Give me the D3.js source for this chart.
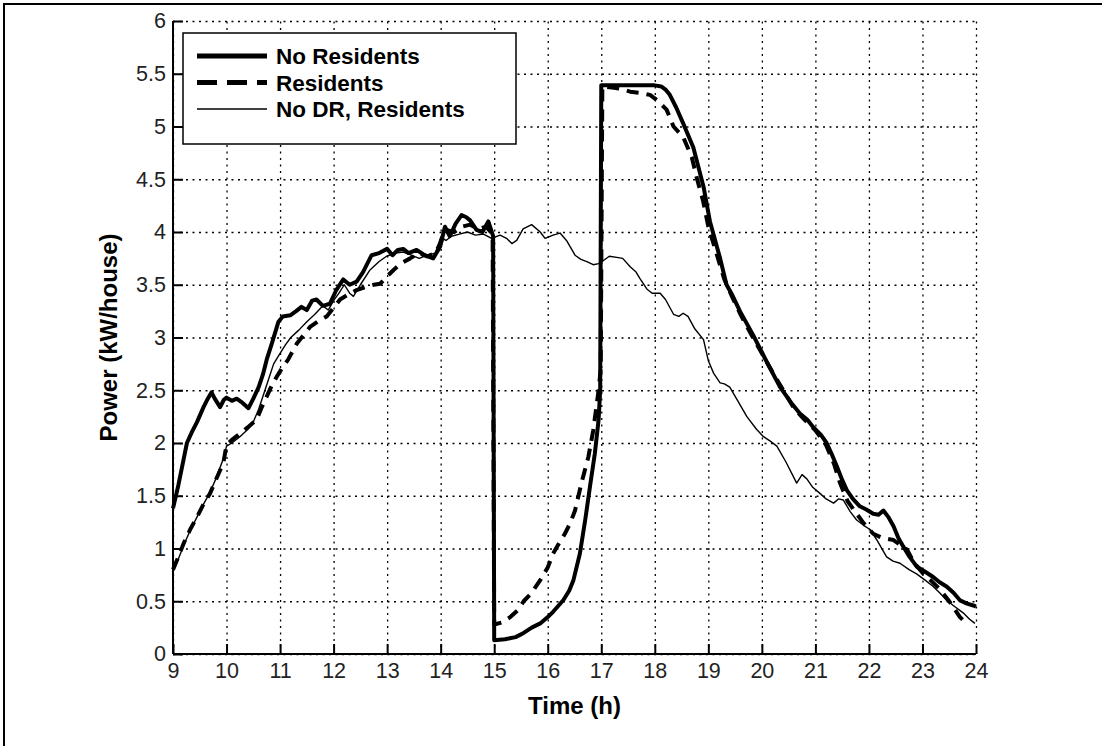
<!DOCTYPE html>
<html lang='en'>
	<head>
		<meta charset='UTF-8'>
		<title>Power per house</title>
		<style>
			body { margin: 0; background: #fff; }
			text { font-family: 'Liberation Sans', Arial, sans-serif; }
		</style>
	</head>
	<body>
		<svg id='graph' width='1102' height='746'></svg>

		<script src='https://d3js.org/d3.v7.min.js'></script>
		<script>
			// series: hour of day and kW/house
			const noResT = [9.0, 9.1, 9.2, 9.26, 9.35, 9.45, 9.57, 9.65, 9.72, 9.78, 9.83, 9.88, 9.95, 10.0, 10.1, 10.19, 10.3, 10.41, 10.5, 10.6, 10.68, 10.75, 10.85, 10.97, 11.05, 11.19, 11.3, 11.4, 11.5, 11.6, 11.68, 11.8, 11.93, 12.05, 12.18, 12.3, 12.43, 12.55, 12.71, 12.85, 13.0, 13.1, 13.2, 13.3, 13.4, 13.55, 13.7, 13.86, 13.99, 14.08, 14.17, 14.28, 14.39, 14.48, 14.55, 14.67, 14.78, 14.89, 14.98, 15.0, 15.2, 15.4, 15.55, 15.7, 15.86, 16.0, 16.1, 16.29, 16.4, 16.48, 16.6, 16.7, 16.79, 16.88, 16.95, 16.98, 17.0, 17.5, 18.0, 18.12, 18.2, 18.28, 18.4, 18.53, 18.72, 18.91, 19.03, 19.22, 19.34, 19.45, 19.59, 19.84, 20.09, 20.34, 20.55, 20.71, 20.85, 20.96, 21.1, 21.21, 21.3, 21.4, 21.5, 21.59, 21.7, 21.83, 21.95, 22.08, 22.18, 22.27, 22.36, 22.46, 22.55, 22.64, 22.76, 22.89, 23.05, 23.2, 23.32, 23.45, 23.58, 23.7, 23.82, 23.95, 24.0];
			const noResV = [1.38, 1.6, 1.85, 2.0, 2.1, 2.2, 2.34, 2.42, 2.48, 2.42, 2.38, 2.34, 2.41, 2.43, 2.4, 2.42, 2.38, 2.33, 2.42, 2.53, 2.65, 2.79, 2.95, 3.15, 3.2, 3.21, 3.25, 3.29, 3.26, 3.35, 3.36, 3.3, 3.32, 3.45, 3.55, 3.5, 3.53, 3.62, 3.78, 3.8, 3.84, 3.78, 3.83, 3.84, 3.8, 3.83, 3.78, 3.75, 3.86, 4.05, 3.96, 4.08, 4.16, 4.14, 4.11, 4.02, 4.0, 4.1, 3.96, 0.13, 0.14, 0.16, 0.2, 0.25, 0.29, 0.35, 0.4, 0.51, 0.6, 0.7, 0.95, 1.27, 1.59, 1.9, 2.22, 2.5, 5.39, 5.39, 5.39, 5.38, 5.35, 5.3, 5.18, 5.03, 4.8, 4.43, 4.1, 3.75, 3.5, 3.4, 3.25, 3.02, 2.77, 2.53, 2.38, 2.28, 2.22, 2.15, 2.08, 2.0, 1.9, 1.78, 1.65, 1.55, 1.47, 1.4, 1.37, 1.33, 1.32, 1.36, 1.3, 1.21, 1.1, 1.02, 0.92, 0.83, 0.78, 0.73, 0.68, 0.64, 0.58, 0.51, 0.48, 0.46, 0.45];

			const resT = [9.0, 9.1, 9.2, 9.32, 9.45, 9.57, 9.69, 9.8, 9.94, 10.0, 10.1, 10.25, 10.4, 10.56, 10.65, 10.75, 10.85, 10.94, 11.05, 11.15, 11.31, 11.45, 11.56, 11.7, 11.87, 12.0, 12.12, 12.25, 12.43, 12.6, 12.75, 12.87, 13.0, 13.12, 13.25, 13.43, 13.6, 13.75, 13.9, 14.0, 14.1, 14.25, 14.4, 14.55, 14.7, 14.85, 14.97, 15.0, 15.15, 15.3, 15.45, 15.55, 15.7, 15.86, 16.0, 16.1, 16.2, 16.32, 16.42, 16.51, 16.63, 16.76, 16.85, 16.95, 16.99, 17.02, 17.2, 17.35, 17.54, 17.7, 17.91, 18.04, 18.22, 18.35, 18.53, 18.69, 18.78, 18.9, 19.0, 19.15, 19.3, 19.45, 19.6, 19.8, 20.0, 20.2, 20.4, 20.6, 20.8, 21.0, 21.2, 21.35, 21.46, 21.6, 21.77, 21.9, 22.08, 22.25, 22.46, 22.6, 22.71, 22.85, 23.02, 23.15, 23.33, 23.5, 23.7, 23.82];
			const resV = [0.8, 0.92, 1.05, 1.18, 1.3, 1.42, 1.52, 1.65, 1.81, 1.98, 2.03, 2.09, 2.15, 2.22, 2.33, 2.44, 2.55, 2.63, 2.72, 2.79, 2.94, 3.03, 3.1, 3.15, 3.2, 3.28, 3.36, 3.4, 3.45, 3.48, 3.5, 3.51, 3.58, 3.64, 3.7, 3.75, 3.8, 3.77, 3.8, 3.9, 4.02, 4.0, 4.05, 4.07, 4.03, 4.05, 3.98, 0.28, 0.3, 0.35, 0.42, 0.5, 0.58, 0.7, 0.82, 0.95, 1.04, 1.14, 1.24, 1.36, 1.62, 1.87, 2.12, 2.5, 2.7, 5.38, 5.37, 5.36, 5.33, 5.32, 5.3, 5.25, 5.16, 5.0, 4.9, 4.71, 4.52, 4.3, 4.05, 3.8, 3.55, 3.38, 3.22, 3.03, 2.85, 2.67, 2.5, 2.33, 2.22, 2.12, 1.98, 1.8, 1.62, 1.45, 1.33, 1.24, 1.14, 1.1, 1.08, 1.03, 0.99, 0.86, 0.76, 0.7, 0.61, 0.5, 0.35, 0.29];

			const noDrT = [9.0, 9.1, 9.2, 9.32, 9.45, 9.57, 9.69, 9.8, 9.94, 10.0, 10.1, 10.25, 10.4, 10.5, 10.6, 10.75, 10.88, 11.0, 11.1, 11.2, 11.35, 11.5, 11.65, 11.8, 11.9, 12.0, 12.1, 12.2, 12.3, 12.37, 12.5, 12.68, 12.85, 12.99, 13.15, 13.3, 13.45, 13.6, 13.75, 13.9, 14.0, 14.1, 14.2, 14.35, 14.5, 14.65, 14.8, 14.95, 15.11, 15.23, 15.33, 15.42, 15.54, 15.7, 15.86, 15.95, 16.1, 16.23, 16.35, 16.51, 16.62, 16.73, 16.85, 16.95, 17.04, 17.15, 17.29, 17.4, 17.54, 17.65, 17.72, 17.85, 17.95, 18.1, 18.2, 18.35, 18.45, 18.53, 18.62, 18.75, 18.91, 19.0, 19.1, 19.22, 19.3, 19.4, 19.55, 19.72, 19.9, 20.03, 20.15, 20.28, 20.45, 20.65, 20.75, 20.84, 20.95, 21.09, 21.2, 21.34, 21.43, 21.52, 21.65, 21.77, 21.9, 22.02, 22.15, 22.33, 22.45, 22.58, 22.75, 22.89, 23.05, 23.2, 23.32, 23.45, 23.6, 23.76, 23.88, 23.98];
			const noDrV = [0.78, 0.9, 1.03, 1.17, 1.3, 1.42, 1.53, 1.66, 1.85, 1.97, 2.0, 2.06, 2.13, 2.2, 2.32, 2.55, 2.75, 2.85, 2.93, 3.0, 3.07, 3.15, 3.22, 3.3, 3.26, 3.35, 3.42, 3.5, 3.42, 3.39, 3.5, 3.64, 3.72, 3.77, 3.8, 3.81, 3.78, 3.75, 3.78, 3.8, 3.95, 3.92, 3.96, 3.98, 4.0, 3.97, 3.98, 3.94, 3.97, 3.94, 3.89, 3.92, 4.03, 4.07, 4.0, 3.94, 3.97, 3.99, 3.92, 3.78, 3.74, 3.72, 3.69, 3.7, 3.73, 3.77, 3.76, 3.75, 3.67, 3.62, 3.56, 3.46, 3.42, 3.42, 3.36, 3.22, 3.2, 3.23, 3.2, 3.08, 2.98, 2.78, 2.66, 2.57, 2.56, 2.53, 2.4, 2.25, 2.13, 2.06, 2.02, 1.97, 1.82, 1.62, 1.7, 1.66, 1.58, 1.52, 1.47, 1.43, 1.47, 1.46, 1.35, 1.27, 1.22, 1.18, 1.08, 0.92, 0.88, 0.86, 0.8, 0.76, 0.7, 0.64, 0.58, 0.51, 0.45, 0.39, 0.33, 0.29];

			const xTicks = d3.range(9, 25, 1);
			const yTicks = [0, 0.5, 1, 1.5, 2, 2.5, 3, 3.5, 4, 4.5, 5, 5.5, 6];
			const legendNames = ['No Residents', 'Residents', 'No DR, Residents'];

			const plotLeft = 173, plotRight = 976, plotTop = 21, plotBottom = 654;

			const svg = d3.select('#graph');

			// outer frame
			svg.append('rect')
				.attr('x', 4).attr('y', 4)
				.attr('width', 1110).attr('height', 760)
				.attr('fill', 'none').attr('stroke', '#000').attr('stroke-width', 2);

			const xScale = d3.scaleLinear().domain([9, 24]).range([plotLeft, plotRight]);
			const yScale = d3.scaleLinear().domain([0, 6]).range([plotBottom, plotTop]);

			// dotted grid
			const gridX = svg.append('g')
				.attr('transform', `translate(0, ${plotBottom})`)
				.call(d3.axisBottom(xScale).tickValues(xTicks).tickSize(-(plotBottom - plotTop)).tickFormat(''));
			const gridY = svg.append('g')
				.attr('transform', `translate(${plotLeft}, 0)`)
				.call(d3.axisLeft(yScale).tickValues(yTicks).tickSize(-(plotRight - plotLeft)).tickFormat(''));
			[gridX, gridY].forEach((g) => {
				g.select('.domain').remove();
				g.selectAll('line').attr('stroke', '#000').attr('stroke-width', 1.3).attr('stroke-dasharray', '2,4.5');
			});

			// lines
			const line = d3.line()
				.x((d) => xScale(d[0]))
				.y((d) => yScale(d[1]));

			const series = [
				{ pts: d3.zip(noDrT, noDrV), width: 1.4, dash: null },
				{ pts: d3.zip(resT, resV), width: 4, dash: '12,8' },
				{ pts: d3.zip(noResT, noResV), width: 4, dash: null }
			];
			svg.selectAll('path.series')
				.data(series)
				.enter()
				.append('path')
				.attr('class', 'series')
				.attr('d', (s) => line(s.pts))
				.attr('fill', 'none')
				.attr('stroke', '#000')
				.attr('stroke-width', (s) => s.width)
				.attr('stroke-dasharray', (s) => s.dash)
				.attr('stroke-linejoin', 'round');

			// axes (ticks point inwards)
			const xAxis = svg.append('g')
				.attr('transform', `translate(0, ${plotBottom})`)
				.call(d3.axisBottom(xScale).tickValues(xTicks).tickSize(-10).tickPadding(9).tickFormat(d3.format('d')));
			const yAxis = svg.append('g')
				.attr('transform', `translate(${plotLeft}, 0)`)
				.call(d3.axisLeft(yScale).tickValues(yTicks).tickSize(-10).tickPadding(7).tickFormat((d) => String(d)));
			[xAxis, yAxis].forEach((g) => {
				g.select('.domain').attr('stroke', '#000').attr('stroke-width', 2);
				g.selectAll('line').attr('stroke', '#000').attr('stroke-width', 2);
				g.selectAll('text').attr('fill', '#222').style('font-size', '21.5px').style('font-family', "'Liberation Sans', Arial, sans-serif");
			});
			xAxis.select('.domain').attr('d', `M${plotLeft},0H${plotRight}`);
			yAxis.select('.domain').attr('d', `M0,${plotBottom}V${plotTop}`);

			// axis titles
			svg.append('text')
				.attr('x', (plotLeft + plotRight) / 2).attr('y', 714)
				.attr('text-anchor', 'middle')
				.style('font-size', '24px').style('font-weight', 'bold')
				.text('Time (h)');
			svg.append('text')
				.attr('transform', `translate(117, ${(plotTop + plotBottom) / 2}) rotate(-90)`)
				.attr('text-anchor', 'middle')
				.style('font-size', '24px').style('font-weight', 'bold')
				.text('Power (kW/house)');

			// legend
			const legend = svg.append('g');
			legend.append('rect')
				.attr('x', 183).attr('y', 33).attr('width', 333).attr('height', 111)
				.attr('fill', '#fff').attr('stroke', '#000').attr('stroke-width', 1.5);
			const legendRows = [
				{ width: 5, dash: null },
				{ width: 5, dash: '20,10' },
				{ width: 1.4, dash: null }
			];
			legendNames.forEach((name, i) => {
				const y = 56 + i * 26.5;
				legend.append('line')
					.attr('x1', 197).attr('x2', 267).attr('y1', y).attr('y2', y)
					.attr('stroke', '#000')
					.attr('stroke-width', legendRows[i].width)
					.attr('stroke-dasharray', legendRows[i].dash);
				legend.append('text')
					.attr('x', 276).attr('y', y + 8)
					.style('font-size', '22.5px').style('font-weight', 'bold')
					.text(name);
			});
		</script>
	</body>
</html>
